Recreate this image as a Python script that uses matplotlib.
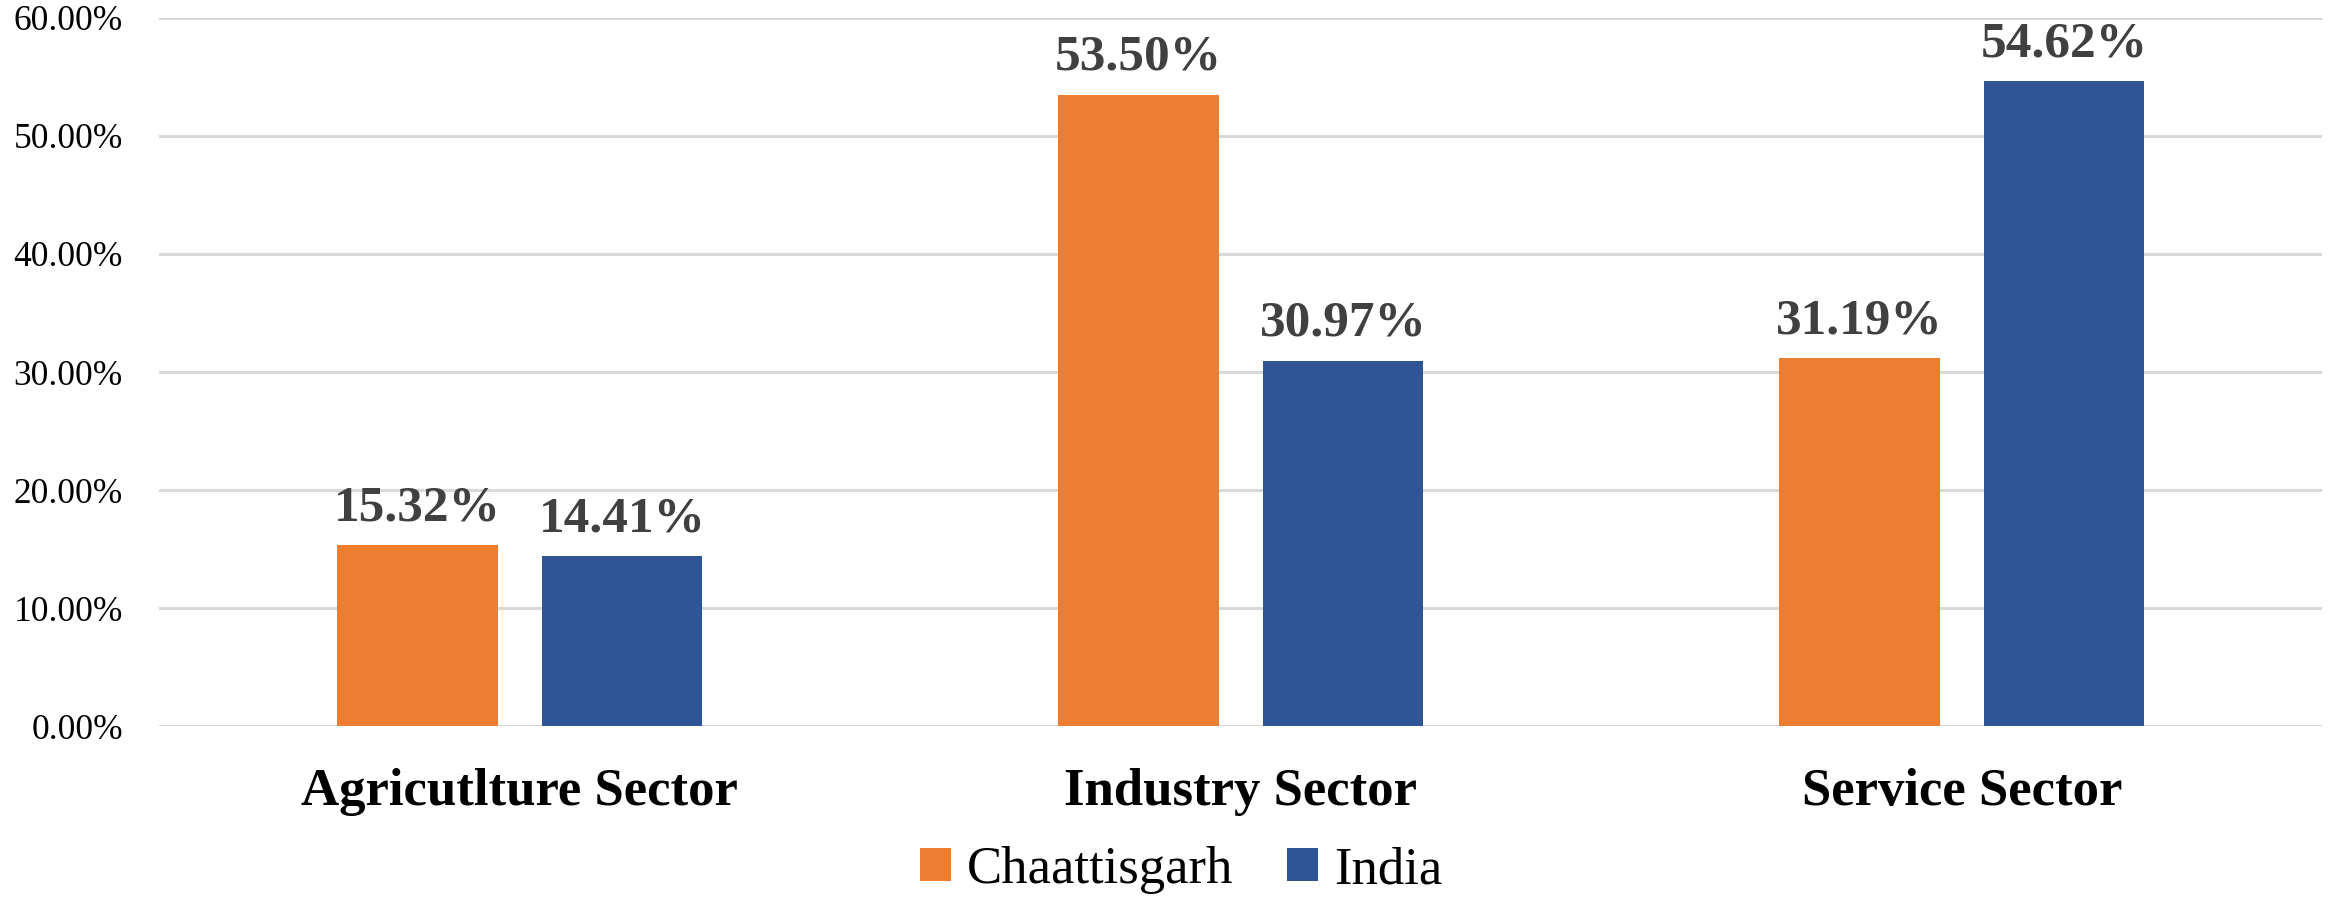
import numpy as np
import matplotlib.pyplot as plt

sectors = ["Agricutlture Sector", "Industry Sector", "Service Sector"]
chhattisgarh = [15.32, 53.50, 31.19]
india = [14.41, 30.97, 54.62]
series_names = ["Chaattisgarh", "India"]
yticks = [0, 10, 20, 30, 40, 50, 60]

plt.rcParams['font.family'] = ['Liberation Serif', 'DejaVu Serif']

fig = plt.figure(figsize=(23.36, 8.99), dpi=100)
ax = fig.add_axes([0.0681, 0.1924, 0.926, 0.7876])

x = np.arange(len(sectors))
w = 0.223
off = 0.142
b1 = ax.bar(x - off, chhattisgarh, w, color="#ED7D31", label=series_names[0], zorder=3)
b2 = ax.bar(x + off, india, w, color="#2F5597", label=series_names[1], zorder=3)

for bars in (b1, b2):
    ax.bar_label(bars, labels=["%.2f%%" % v for v in bars.datavalues],
                 padding=10, fontsize=37, fontweight='bold', color="#404040",
                 family='Liberation Serif')

ax.set_xlim(-0.5, 2.5)
ax.set_ylim(0, 60)
ax.set_yticks(yticks)
ax.set_yticklabels(["%.2f%%" % v for v in yticks], fontsize=25.5, family='Liberation Serif')
ax.set_xticks(x)
ax.set_xticklabels(sectors, fontsize=38, fontweight='bold', family='Liberation Serif')
ax.tick_params(axis='y', length=0, pad=26)
ax.tick_params(axis='x', length=0, pad=30)
ax.yaxis.grid(True, color="#D9D9D9", linewidth=2.2, zorder=0)
for s in ax.spines.values():
    s.set_visible(False)

fig.legend(loc='center', bbox_to_anchor=(0.5056, 0.032), ncol=2, frameon=False,
           prop={'family': 'Liberation Serif', 'size': 38},
           handlelength=0.6, handleheight=0.6, handletextpad=0.3,
           columnspacing=1.0)

fig.savefig("out.png", dpi=100)
